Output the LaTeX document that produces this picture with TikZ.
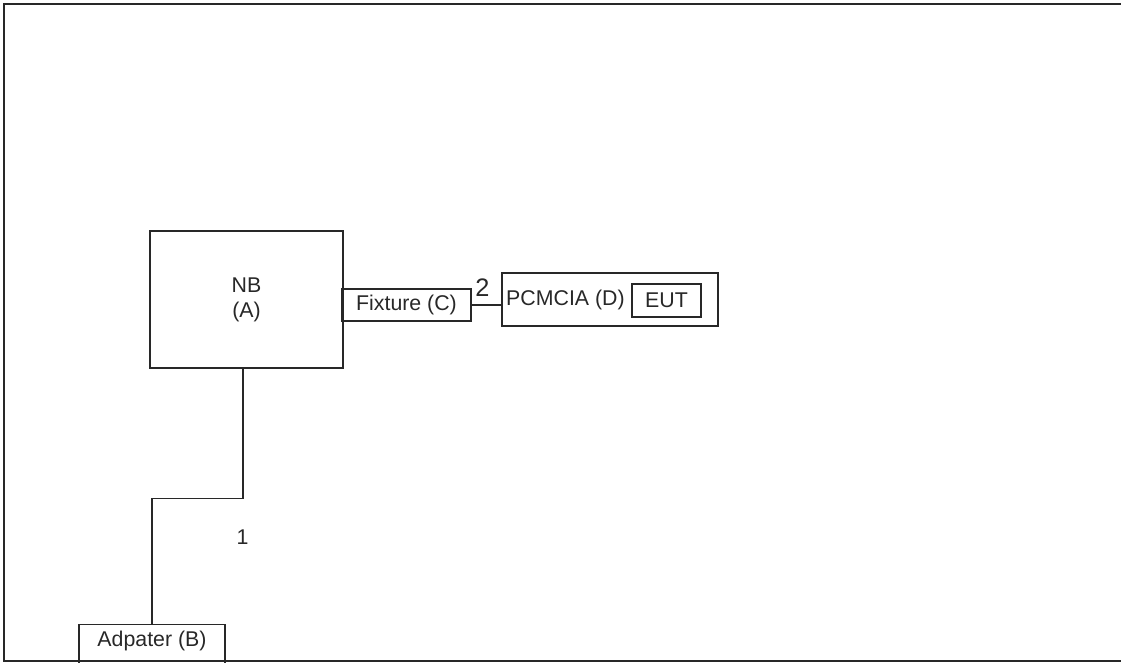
\documentclass[tikz,border=0pt]{standalone}
\usepackage{fontspec}
\setmainfont{Liberation Sans}
\usetikzlibrary{positioning, calc}
\definecolor{cL}{RGB}{40,40,40}

\begin{document}
\begin{tikzpicture}[x=0.75pt, y=-0.75pt, font=\fontsize{16}{18.75}\selectfont]

    \tikzstyle{box} = [draw=cL, rectangle, line width=1.1pt, inner sep=0pt, text=cL]
    \tikzstyle{wire} = [draw=cL, line width=1.1pt]

    \useasboundingbox (0,0) rectangle (1121,663);
    \clip (0,0) rectangle (1121,663);

    % Frame
    \draw[line width=1.6pt, cL] (1121,4) -- (4,4) -- (4,661) -- (1121,661);

    % Notebook
    \node[box, minimum width=144.75pt, minimum height=102.75pt, align=center] (nb) at (246.5,299.5) {NB\\(A)};

    % Fixture
    \node[box, minimum width=96.75pt, minimum height=24pt] (fix) at (406.5,305) {Fixture (C)};

    % PCMCIA card with EUT
    \node[box, minimum width=162pt, minimum height=39.75pt] (pcm) at (610,299.5) {};
    \node[anchor=west, inner sep=0pt, text=cL] (pcmtxt) at ([xshift=3.5pt]pcm.west) {PCMCIA (D)};
    \node[box, minimum width=51.75pt, minimum height=24.75pt] (eut) at (666.5,300.5) {EUT};

    % Adapter
    \node[box, minimum width=109.5pt, minimum height=30pt, anchor=north] (adp) at (152,624) {\raisebox{9.5pt}{Adpater (B)}};

    % Cable 1: NB to adapter
    \draw[wire] ([xshift=-2.6pt]nb.south) -- ++(0,130) -| (adp.north);
    \node[text=cL] (lbl1) at (242.5,537) {1};

    % Cable 2: fixture to PCMCIA
    \draw[wire] (fix.east) -- (fix.east -| pcm.west);
    \node[text=cL, font=\fontsize{19}{19}\selectfont] (lbl2) at (482.5,288) {2};

\end{tikzpicture}
\end{document}
